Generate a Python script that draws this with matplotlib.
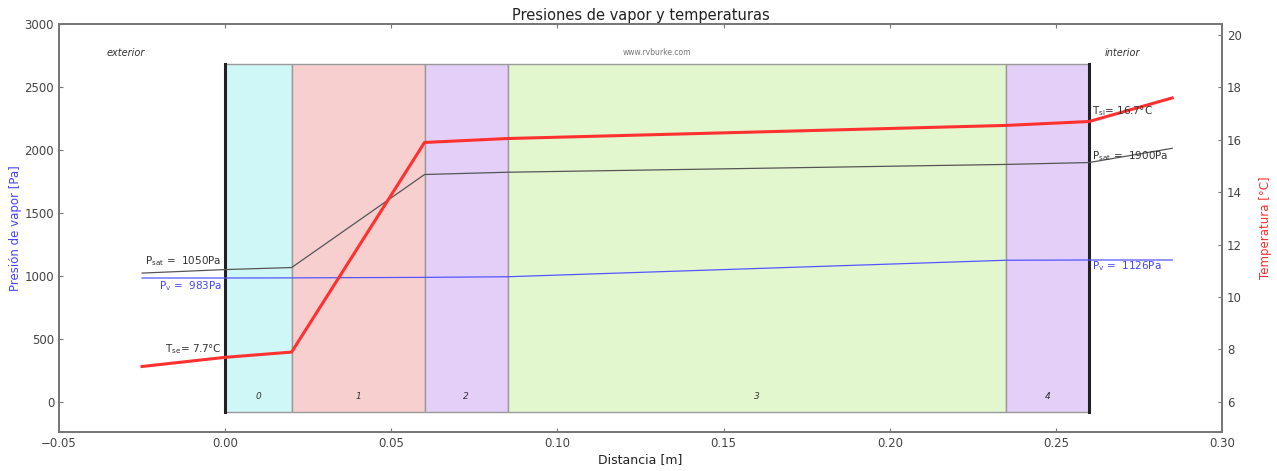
import matplotlib
matplotlib.use("Agg")
import matplotlib.pyplot as plt
from matplotlib.patches import Rectangle

# Layer boundaries [m] and fill colours
layer_edges = [0.0, 0.02, 0.06, 0.085, 0.235, 0.26]
layer_names = ["0", "1", "2", "3", "4"]
layer_colors = ["#cff7f7", "#f7cfcf", "#e3cff7", "#e3f7cf", "#e3cff7"]

# Profile points through the wall [m]
x_profile = [-0.025, 0.0, 0.02, 0.06, 0.085, 0.235, 0.26, 0.285]
temperature = [7.35, 7.7, 7.9, 15.9, 16.05, 16.55, 16.7, 17.6]      # °C
p_sat = [1022, 1050, 1066, 1805, 1823, 1885, 1900, 2013]            # Pa
p_vap = [983, 983, 984, 988, 993, 1124, 1126, 1126]                 # Pa

fig = plt.figure(figsize=(12.77, 4.71), dpi=100)
ax = fig.add_axes([0.0462, 0.0828, 0.9108, 0.8662])
ax2 = ax.twinx()

ax.set_xlim(-0.05, 0.30)
ax.set_ylim(-240, 3000)
ax2.set_ylim(4.85, 20.42)

rect_bottom, rect_top = -85, 2680
for i, name in enumerate(layer_names):
    x0, x1 = layer_edges[i], layer_edges[i + 1]
    ax.add_patch(Rectangle((x0, rect_bottom), x1 - x0, rect_top - rect_bottom,
                           facecolor=layer_colors[i], edgecolor="#9a9a9a",
                           linewidth=1.0, zorder=1))
    ax.text((x0 + x1) / 2, 10, name, ha="center", va="bottom",
            fontsize=6.5, style="italic", color="#333333", zorder=3)
for xb in (layer_edges[0], layer_edges[-1]):
    ax.plot([xb, xb], [rect_bottom, rect_top], color="#222222", lw=2.2, zorder=4)

ax.plot(x_profile, p_sat, color="#555555", lw=0.9, zorder=5)
ax.plot(x_profile, p_vap, color="#5555ff", lw=0.9, zorder=5)
ax2.plot(x_profile, temperature, color="#ff3030", lw=2.2, zorder=5)

lbl = dict(fontsize=7.5, zorder=6)
ax.text(-0.001, p_sat[1] + 12, r"P$_\mathrm{sat}$ =  %dPa" % p_sat[1], ha="right",
        va="bottom", color="#333333", **lbl)
ax.text(-0.001, p_vap[1] - 12, r"P$_\mathrm{v}$ =  %dPa" % p_vap[1], ha="right",
        va="top", color="#4444ff", **lbl)
ax.text(0.261, p_sat[6] + 50, r"P$_\mathrm{sat}$ =  %dPa" % p_sat[6], ha="left",
        va="center", color="#333333", **lbl)
ax.text(0.261, p_vap[6] - 45, r"P$_\mathrm{v}$ =  %dPa" % p_vap[6], ha="left",
        va="center", color="#4444ff", **lbl)
ax2.text(-0.001, temperature[1] + 0.05, r"T$_\mathrm{se}$= %.1f°C" % temperature[1],
         ha="right", va="bottom", color="#333333", **lbl)
ax2.text(0.261, temperature[6] + 0.4, r"T$_\mathrm{si}$= %.1f°C" % temperature[6],
         ha="left", va="center", color="#333333", **lbl)

ax.text(-0.03, 2770, "exterior", ha="center", va="center", fontsize=7,
        style="italic", color="#333333")
ax.text(0.27, 2770, "interior", ha="center", va="center", fontsize=7,
        style="italic", color="#333333")
ax.text(0.13, 2770, "www.rvburke.com", ha="center", va="center", fontsize=5.5,
        color="#777777")

ax.set_title("Presiones de vapor y temperaturas", fontsize=10.5, pad=3,
             color="#222222")
ax.set_xlabel("Distancia [m]", fontsize=9, labelpad=2, color="#222222")
ax.set_ylabel("Presión de vapor [Pa]", fontsize=8.5, color="#4444ff", labelpad=2)
ax2.set_ylabel("Temperatura [°C]", fontsize=8.5, color="#ff3030", labelpad=12)

ax.set_xticks([-0.05, 0.0, 0.05, 0.10, 0.15, 0.20, 0.25, 0.30])
ax.set_xticklabels(["\u22120.05", "0.00", "0.05", "0.10", "0.15", "0.20", "0.25", "0.30"])
ax.set_yticks([0, 500, 1000, 1500, 2000, 2500, 3000])
ax2.set_yticks([6, 8, 10, 12, 14, 16, 18, 20])

for a in (ax, ax2):
    for s in a.spines.values():
        s.set_color("#777777")
        s.set_linewidth(1.3)
    a.tick_params(direction="in", length=3, width=0.8, colors="#777777",
                  labelcolor="#444444", labelsize=8.5)
ax.tick_params(axis="x", top=True)
ax.set_zorder(ax2.get_zorder() - 1)
ax2.patch.set_visible(False)

fig.savefig("out.png", dpi=100)
